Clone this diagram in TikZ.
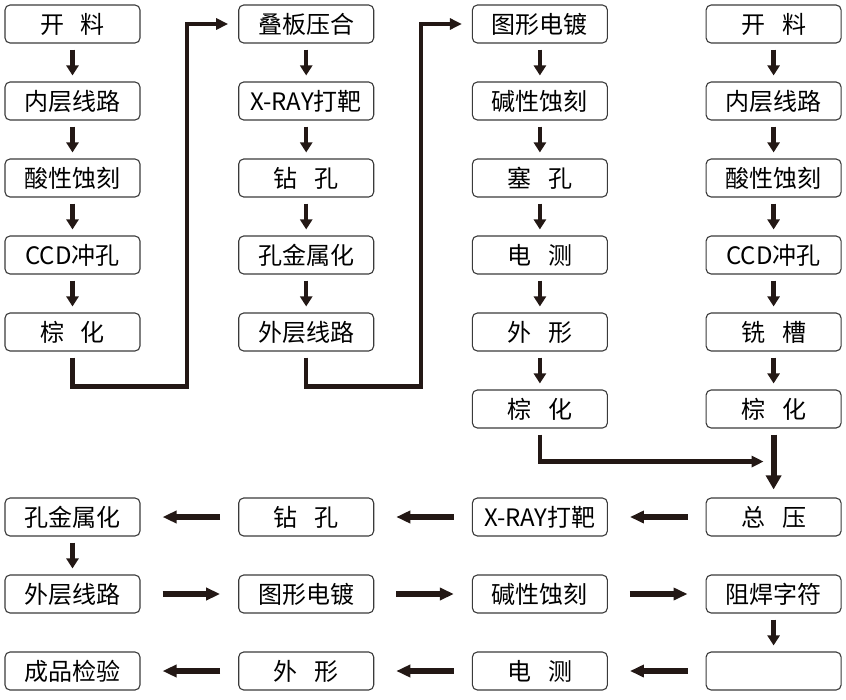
\documentclass[tikz,border=0pt]{standalone}
\usepackage{fontspec}
\setmainfont{Noto Sans CJK SC}
\usetikzlibrary{arrows.meta,positioning,calc}
\definecolor{inkline}{HTML}{231815}
\definecolor{boxline}{HTML}{3A3A3A}
\newcommand{\gp}{\hspace{0.7em}}

\begin{document}
\begin{tikzpicture}[x=1pt,y=1pt,node distance=77pt and 233.7pt,on grid,
    box/.style={draw=boxline,line width=1.1pt,rounded corners=5pt,
        minimum width=135pt,minimum height=38pt,inner sep=0pt,
        font=\fontsize{24}{24}\selectfont},
    down/.style={-{Triangle[width=12pt,length=10pt]},inkline,line width=4.5pt,
        shorten <=6pt,shorten >=6pt},
    elbow/.style={-{Triangle[width=11pt,length=12pt]},inkline,line width=4.2pt},
    flow/.style={-{Triangle[width=12pt,length=14pt]},inkline,line width=6pt}]
    \useasboundingbox (-72.5,24) rectangle (773.5,-675);
    % first core
    \node[box] (a1)                  {开\gp 料};
    \node[box] (a2) [below =of a1]   {内层线路};
    \node[box] (a3) [below =of a2]   {酸性蚀刻};
    \node[box] (a4) [below =of a3]   {CCD冲孔};
    \node[box] (a5) [below =of a4]   {棕\gp 化};
    \node[box] (b1) [right =of a1]   {叠板压合};
    \node[box] (b2) [below =of b1]   {X-RAY打靶};
    \node[box] (b3) [below =of b2]   {钻\gp 孔};
    \node[box] (b4) [below =of b3]   {孔金属化};
    \node[box] (b5) [below =of b4]   {外层线路};
    \node[box] (c1) [right =of b1]   {图形电镀};
    \node[box] (c2) [below =of c1]   {碱性蚀刻};
    \node[box] (c3) [below =of c2]   {塞\gp 孔};
    \node[box] (c4) [below =of c3]   {电\gp 测};
    \node[box] (c5) [below =of c4]   {外\gp 形};
    \node[box] (c6) [below =of c5]   {棕\gp 化};
    % second core
    \node[box] (d1) [right =of c1]   {开\gp 料};
    \node[box] (d2) [below =of d1]   {内层线路};
    \node[box] (d3) [below =of d2]   {酸性蚀刻};
    \node[box] (d4) [below =of d3]   {CCD冲孔};
    \node[box] (d5) [below =of d4]   {铣\gp 槽};
    \node[box] (d6) [below =of d5]   {棕\gp 化};
    % after press
    \node[box] (e4) [below =108pt of d6] {总\gp 压};
    \node[box] (e3) [left =of e4]    {X-RAY打靶};
    \node[box] (e2) [left =of e3]    {钻\gp 孔};
    \node[box] (e1) [left =of e2]    {孔金属化};
    \node[box] (f1) [below =of e1]   {外层线路};
    \node[box] (f2) [right =of f1]   {图形电镀};
    \node[box] (f3) [right =of f2]   {碱性蚀刻};
    \node[box] (f4) [right =of f3]   {阻焊字符};
    \node[box] (g4) [below =of f4]   {};
    \node[box] (g3) [left =of g4]    {电\gp 测};
    \node[box] (g2) [left =of g3]    {外\gp 形};
    \node[box] (g1) [left =of g2]    {成品检验};

    \foreach \u/\v in {a1/a2,a2/a3,a3/a4,a4/a5,b1/b2,b2/b3,b3/b4,b4/b5,
        c1/c2,c2/c3,c3/c4,c4/c5,c5/c6,d1/d2,d2/d3,d3/d4,d4/d5,d5/d6,e1/f1,f4/g4}
        \draw[down] (\u) -- (\v);

    \draw[elbow] ([yshift=-6pt]a5.south) -- ++(0,-29) -| ([xshift=-51pt]b1.west)
        -- ([xshift=-10pt]b1.west);
    \draw[elbow] ([yshift=-6pt]b5.south) -- ++(0,-29) -| ([xshift=-51pt]c1.west)
        -- ([xshift=-10pt]c1.west);
    \draw[elbow] ([yshift=-6pt]c6.south) -- ++(0,-27) coordinate (k)
        -- ($(k -| d6.south)+(-10,0)$);
    \draw[flow,-{Triangle[width=15pt,length=14pt]}] ([yshift=-6pt]d6.south) -- ([yshift=8pt]e4.north);

    % leftward
    \foreach \u/\v in {e4/e3,e3/e2,e2/e1,g4/g3,g3/g2,g2/g1}
        \draw[flow,shorten <=18pt,shorten >=22pt] (\u.west) -- (\v.east);
    % rightward
    \foreach \u/\v in {f1/f2,f2/f3,f3/f4}
        \draw[flow,shorten <=22pt,shorten >=18pt] (\u.east) -- (\v.west);
\end{tikzpicture}
\end{document}
